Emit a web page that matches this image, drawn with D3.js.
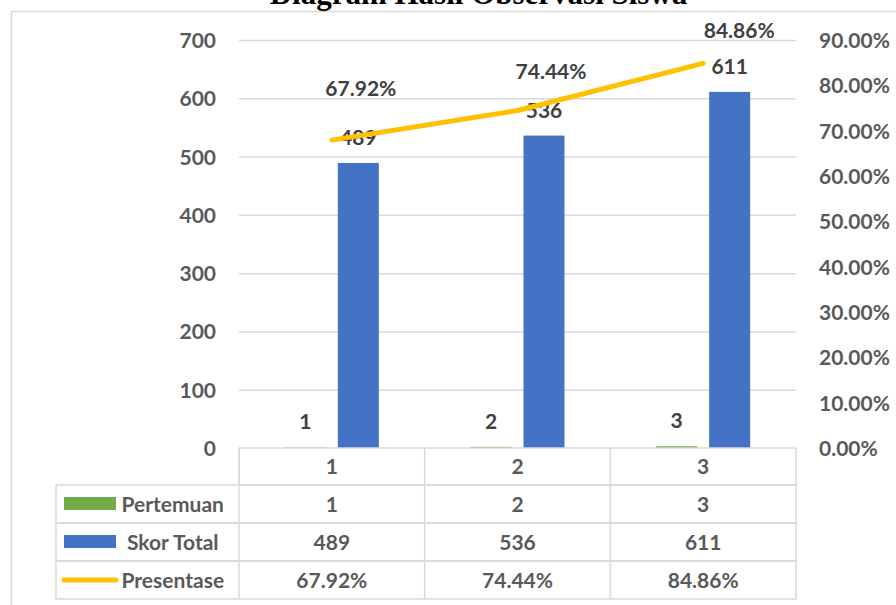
<!DOCTYPE html>
<html>
<head>
<meta charset="utf-8">
<script src="https://cdn.jsdelivr.net/npm/d3@7"></script>
<style>
  body { margin: 0; background: #fff; }
  svg { display: block; }
</style>
</head>
<body>
<script>
// data
const categories = ["1", "2", "3"];
const pertemuan = [1, 2, 3];
const skorTotal = [489, 536, 611];
const presentase = [0.6792, 0.7444, 0.8486];
const leftTicks = [0, 100, 200, 300, 400, 500, 600, 700];
const rightTicks = [0, 0.1, 0.2, 0.3, 0.4, 0.5, 0.6, 0.7, 0.8, 0.9];
const seriesNames = ["Pertemuan", "Skor Total", "Presentase"];
const titleText = "Diagram Hasil Observasi Siswa";

const W = 896, H = 605;
const plotL = 239, plotR = 796, plotT = 40, plotB = 448;
const rowTops = [485, 523, 561, 599];
const tableL = 56;
const grid = "#d9d9d9";
const axisCol = "#595959";
const labelCol = "#404040";
const font = "Lato, 'Open Sans', sans-serif";
const colors = { "Pertemuan": "#70AD47", "Skor Total": "#4472C4", "Presentase": "#FFC000" };
// manual nudges of the percentage labels, as placed in the original
const lineLabelNudge = [[29, -44], [33.5, -31.5], [36, -25]];

let svg = d3.select("body")
  .append("svg")
  .attr("width", W)
  .attr("height", H)
  .style("font-family", font);

// chart border
svg.append("path")
  .attr("d", `M11.5,${H + 2}V11.5H${W + 2}`)
  .attr("fill", "none")
  .attr("stroke", grid)
  .attr("stroke-width", 1.5);

// title (cut at the top as in the original)
svg.append("text")
  .attr("x", 478.5)
  .attr("y", 4)
  .attr("text-anchor", "middle")
  .attr("font-family", "'Liberation Serif', 'Times New Roman', serif")
  .attr("font-weight", "bold")
  .attr("font-size", "31px")
  .attr("fill", "#000")
  .text(titleText);

let x = d3.scaleBand()
  .domain(categories)
  .range([plotL, plotR]);

let xSub = d3.scaleBand()
  .domain(seriesNames.slice(0, 2))
  .range([0, x.bandwidth()])
  .paddingInner(0.2264)
  .paddingOuter(0.865);

let yLeft = d3.scaleLinear().domain([0, 700]).range([plotB, plotT]);
let yRight = d3.scaleLinear().domain([0, 0.9]).range([plotB, plotT]);

// gridlines
let gridAxis = svg.append("g")
  .attr("transform", `translate(${plotL},0)`)
  .call(d3.axisLeft(yLeft).tickValues(leftTicks.slice(1)).tickSize(-(plotR - plotL)).tickFormat(""));
gridAxis.select(".domain").remove();
gridAxis.selectAll("line").attr("stroke", grid).attr("stroke-width", 1.5);

// left axis
let leftAxis = svg.append("g")
  .attr("transform", `translate(${plotL},0)`)
  .call(d3.axisLeft(yLeft).tickValues(leftTicks).tickSize(0).tickPadding(23));
leftAxis.select(".domain").remove();
leftAxis.selectAll("text")
  .attr("font-family", font)
  .attr("font-size", "21px")
  .attr("font-weight", "bold")
  .attr("fill", axisCol)
  .attr("dy", "0.36em");

// right axis
let rightAxis = svg.append("g")
  .attr("transform", `translate(${plotR},0)`)
  .call(d3.axisRight(yRight).tickValues(rightTicks).tickSize(0).tickPadding(23).tickFormat(d3.format(".2%")));
rightAxis.select(".domain").remove();
rightAxis.selectAll("text")
  .attr("font-family", font)
  .attr("font-size", "21px")
  .attr("font-weight", "bold")
  .attr("fill", axisCol)
  .attr("dy", "0.36em");

// bars
let barData = [];
categories.forEach((c, i) => {
  barData.push({ cat: c, key: "Pertemuan", value: pertemuan[i] });
  barData.push({ cat: c, key: "Skor Total", value: skorTotal[i] });
});

svg.append("g")
  .selectAll("rect")
  .data(barData)
  .enter()
  .append("rect")
  .attr("x", d => x(d.cat) + xSub(d.key))
  .attr("width", xSub.bandwidth())
  .attr("y", d => yLeft(d.value))
  .attr("height", d => plotB - yLeft(d.value))
  .attr("fill", d => colors[d.key]);

svg.append("g")
  .selectAll("text")
  .data(barData)
  .enter()
  .append("text")
  .attr("x", d => x(d.cat) + xSub(d.key) + xSub.bandwidth() / 2)
  .attr("y", d => yLeft(d.value) - 18)
  .attr("text-anchor", "middle")
  .attr("font-size", "21px")
  .attr("font-weight", "bold")
  .attr("fill", labelCol)
  .text(d => d.value);

// line
let linePts = categories.map((c, i) => [x(c) + x.bandwidth() / 2, yRight(presentase[i])]);
svg.append("path")
  .datum(linePts)
  .attr("d", d3.line())
  .attr("fill", "none")
  .attr("stroke", colors["Presentase"])
  .attr("stroke-width", 5)
  .attr("stroke-linecap", "round")
  .attr("stroke-linejoin", "round");

svg.append("g")
  .selectAll("text")
  .data(presentase)
  .enter()
  .append("text")
  .attr("x", (d, i) => linePts[i][0] + lineLabelNudge[i][0])
  .attr("y", (d, i) => linePts[i][1] + lineLabelNudge[i][1])
  .attr("text-anchor", "middle")
  .attr("font-size", "21px")
  .attr("font-weight", "bold")
  .attr("fill", labelCol)
  .text(d => d3.format(".2%")(d));

// data table
let table = svg.append("g")
  .attr("fill", "none")
  .attr("stroke", grid)
  .attr("stroke-width", 1.5);

table.append("rect")
  .attr("x", plotL).attr("y", plotB)
  .attr("width", plotR - plotL).attr("height", rowTops[0] - plotB);
for (let r = 0; r < 3; r++) {
  table.append("rect")
    .attr("x", tableL).attr("y", rowTops[r])
    .attr("width", plotR - tableL).attr("height", rowTops[r + 1] - rowTops[r]);
}
categories.forEach((c, i) => {
  if (i == 0) return;
  table.append("line")
    .attr("x1", x(c)).attr("x2", x(c))
    .attr("y1", plotB).attr("y2", rowTops[3]);
});
table.append("line")
  .attr("x1", plotL).attr("x2", plotL)
  .attr("y1", plotB).attr("y2", rowTops[3]);

let rowsText = [categories, pertemuan.map(String), skorTotal.map(String), presentase.map(d3.format(".2%"))];
let rowCenters = [(plotB + rowTops[0]) / 2, (rowTops[0] + rowTops[1]) / 2, (rowTops[1] + rowTops[2]) / 2, (rowTops[2] + rowTops[3]) / 2];

rowsText.forEach((row, r) => {
  svg.append("g")
    .selectAll("text")
    .data(row)
    .enter()
    .append("text")
    .attr("x", (d, i) => x(categories[i]) + x.bandwidth() / 2)
    .attr("y", rowCenters[r] + 7.5)
    .attr("text-anchor", "middle")
    .attr("font-size", "21px")
    .attr("font-weight", "bold")
    .attr("fill", axisCol)
    .text(d => d);
});

// legend keys in the table
seriesNames.forEach((name, k) => {
  let cy = rowCenters[k + 1];
  if (name == "Presentase") {
    svg.append("line")
      .attr("x1", 64).attr("x2", 116)
      .attr("y1", cy).attr("y2", cy)
      .attr("stroke", colors[name])
      .attr("stroke-width", 5)
      .attr("stroke-linecap", "round");
  } else {
    svg.append("rect")
      .attr("x", 64).attr("y", cy - 7)
      .attr("width", 52).attr("height", 13)
      .attr("fill", colors[name]);
  }
  svg.append("text")
    .attr("x", name == "Skor Total" ? 127 : 121.5)
    .attr("y", cy + 7.5)
    .attr("font-size", "21px")
    .attr("font-weight", "bold")
    .attr("fill", axisCol)
    .text(name);
});
</script>
</body>
</html>
